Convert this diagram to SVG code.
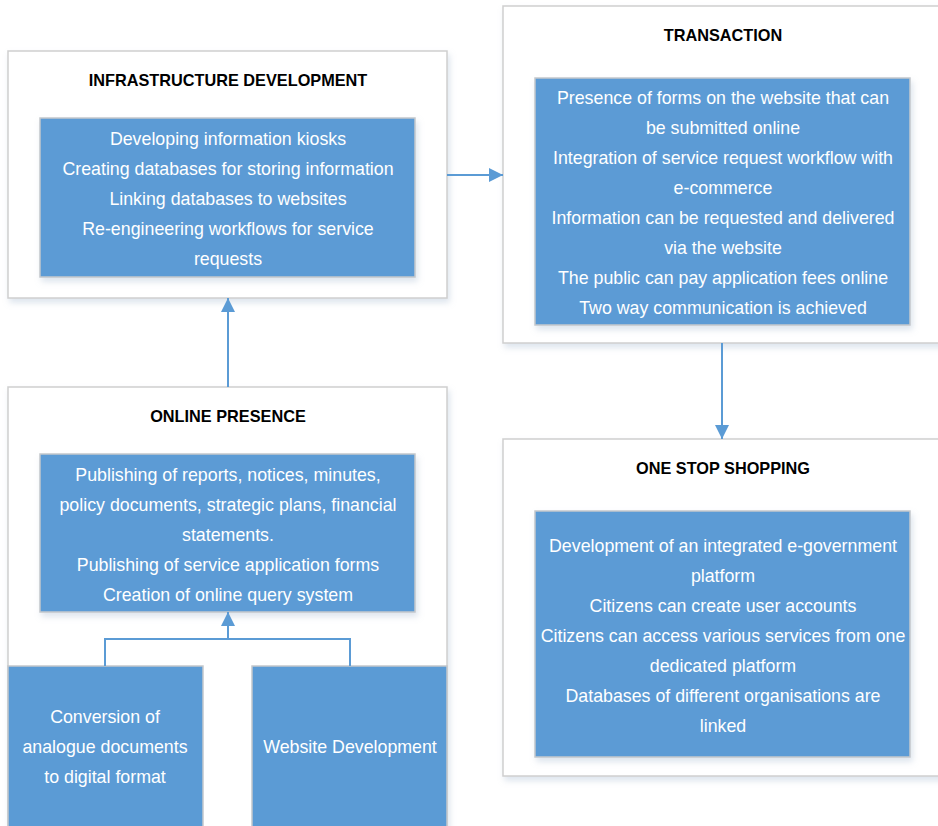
<svg xmlns="http://www.w3.org/2000/svg" width="938" height="826" viewBox="0 0 938 826">
<defs>
<style>
.outer{fill:#ffffff;stroke:#cfcfcf;stroke-width:1.5}
.inner{fill:#5b9bd5;stroke:#c4c8cc;stroke-width:1.5}
.title{font-family:"Liberation Sans",Arial,sans-serif;font-weight:bold;font-size:16.3px;fill:#000;text-anchor:middle}
.body{font-family:"Liberation Sans",Arial,sans-serif;font-size:17.8px;fill:#ffffff;text-anchor:middle}
.conn{fill:none;stroke:#5b9bd5;stroke-width:2}
</style>
<filter id="sh" x="-5%" y="-5%" width="115%" height="120%">
<feDropShadow dx="2" dy="4" stdDeviation="3" flood-color="#9db3cc" flood-opacity="0.35"/>
</filter>
<marker id="ah" viewBox="0 0 10 10" refX="10" refY="5" markerWidth="14" markerHeight="14" markerUnits="userSpaceOnUse" orient="auto">
<path d="M0,0 L10,5 L0,10 Z" fill="#5b9bd5"/>
</marker>
</defs>
<rect width="938" height="826" fill="#ffffff"/>

<g id="infrastructure">
<rect class="outer" x="8" y="51" width="439" height="247" filter="url(#sh)"/>
<text class="title" x="228" y="86">INFRASTRUCTURE DEVELOPMENT</text>
<rect class="inner" x="40" y="118" width="375" height="159" filter="url(#sh)"/>
<text class="body" x="228" y="145">Developing information kiosks</text>
<text class="body" x="228" y="175">Creating databases for storing information</text>
<text class="body" x="228" y="205">Linking databases to websites</text>
<text class="body" x="228" y="235">Re-engineering workflows for service</text>
<text class="body" x="228" y="265">requests</text>
</g>

<g id="transaction">
<rect class="outer" x="503" y="6" width="445" height="337" filter="url(#sh)"/>
<text class="title" x="723" y="41">TRANSACTION</text>
<rect class="inner" x="535" y="78" width="375" height="247" filter="url(#sh)"/>
<text class="body" x="723" y="104">Presence of forms on the website that can</text>
<text class="body" x="723" y="134">be submitted online</text>
<text class="body" x="723" y="164">Integration of service request workflow with</text>
<text class="body" x="723" y="194">e-commerce</text>
<text class="body" x="723" y="224">Information can be requested and delivered</text>
<text class="body" x="723" y="254">via the website</text>
<text class="body" x="723" y="284">The public can pay application fees online</text>
<text class="body" x="723" y="314">Two way communication is achieved</text>
</g>

<g id="one-stop-shopping">
<rect class="outer" x="503" y="439" width="445" height="337" filter="url(#sh)"/>
<text class="title" x="723" y="474">ONE STOP SHOPPING</text>
<rect class="inner" x="535" y="511" width="375" height="246" filter="url(#sh)"/>
<text class="body" x="723" y="552">Development of an integrated e-government</text>
<text class="body" x="723" y="582">platform</text>
<text class="body" x="723" y="612">Citizens can create user accounts</text>
<text class="body" x="723" y="642">Citizens can access various services from one</text>
<text class="body" x="723" y="672">dedicated platform</text>
<text class="body" x="723" y="702">Databases of different organisations are</text>
<text class="body" x="723" y="732">linked</text>
</g>

<g id="online-presence">
<rect class="outer" x="8" y="387" width="439" height="450" filter="url(#sh)"/>
<text class="title" x="228" y="422">ONLINE PRESENCE</text>
<rect class="inner" x="40" y="454" width="375" height="158" filter="url(#sh)"/>
<text class="body" x="228" y="481">Publishing of reports, notices, minutes,</text>
<text class="body" x="228" y="511">policy documents, strategic plans, financial</text>
<text class="body" x="228" y="541">statements.</text>
<text class="body" x="228" y="571">Publishing of service application forms</text>
<text class="body" x="228" y="601">Creation of online query system</text>
</g>

<g id="conversion">
<rect class="inner" x="8" y="666" width="195" height="170"/>
<text class="body" x="105" y="723">Conversion of</text>
<text class="body" x="105" y="753">analogue documents</text>
<text class="body" x="105" y="783">to digital format</text>
</g>

<g id="website-development">
<rect class="inner" x="252" y="666" width="195" height="170"/>
<text class="body" x="350" y="753">Website Development</text>
</g>

<g id="connectors">
<line class="conn" x1="447" y1="175" x2="503" y2="175" marker-end="url(#ah)"/>
<line class="conn" x1="722" y1="343" x2="722" y2="439" marker-end="url(#ah)"/>
<line class="conn" x1="228" y1="387" x2="228" y2="298" marker-end="url(#ah)"/>
<polyline class="conn" points="105,666 105,639 350,639 350,666"/>
<line class="conn" x1="228" y1="639" x2="228" y2="612" marker-end="url(#ah)"/>
</g>
</svg>
